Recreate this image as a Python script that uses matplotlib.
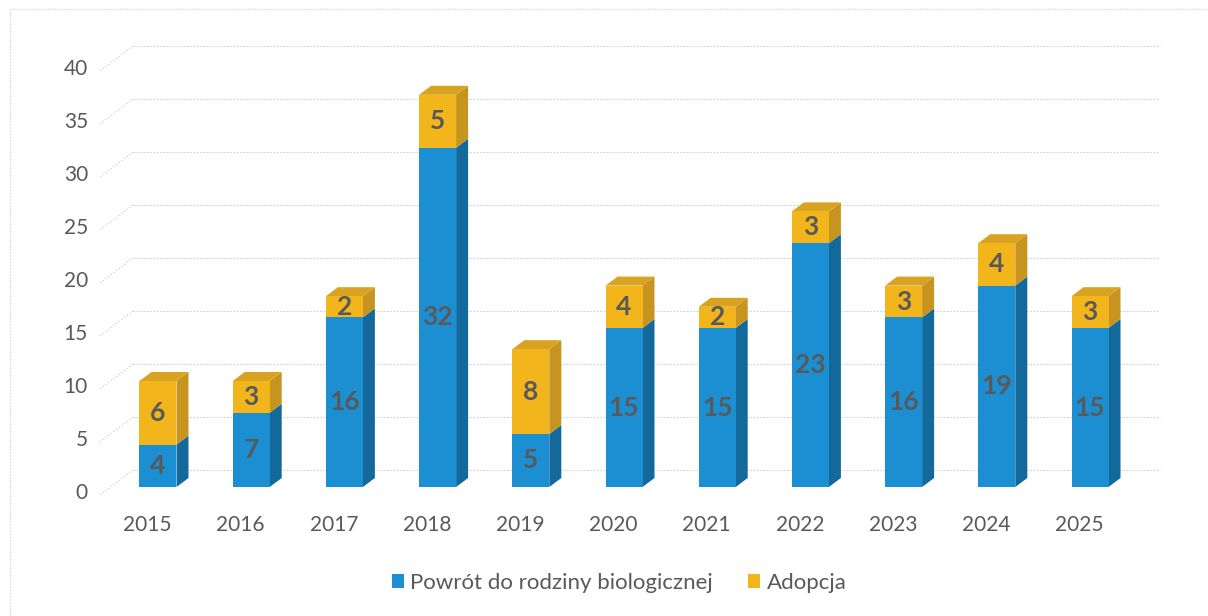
import matplotlib
matplotlib.use("Agg")
import matplotlib.pyplot as plt
from matplotlib.patches import Polygon, Rectangle

years = ["2015", "2016", "2017", "2018", "2019", "2020", "2021", "2022", "2023", "2024", "2025"]
powrot = [4, 7, 16, 32, 5, 15, 15, 23, 16, 19, 15]
adopcja = [6, 3, 2, 5, 8, 4, 2, 3, 3, 4, 3]
yticks = [0, 5, 10, 15, 20, 25, 30, 35, 40]
series_names = ["Powrót do rodziny biologicznej", "Adopcja"]

W, H = 1208, 616
PX_X = 93.2   # pixels per category
PX_Y = 10.6   # pixels per value unit
X0, Y0 = 158, 487  # pixel position of category 0 / value 0 (front of bars)

BLUE_F, BLUE_S, BLUE_T = "#1b8fd2", "#13699c", "#1677b0"
YEL_F, YEL_S, YEL_T = "#f2b51c", "#c6941f", "#d9a322"
TXT = "#595959"
FONT = "Lato"

fig = plt.figure(figsize=(W / 100, H / 100), dpi=100)
ax = fig.add_axes([0, 0, 1, 1])
ax.set_xlim(-X0 / PX_X, (W - X0) / PX_X)
ax.set_ylim((Y0 - H) / PX_Y, Y0 / PX_Y)
ax.axis("off")

def px(dx):
    return dx / PX_X

def py(dy):
    return dy / PX_Y

# faint scan frame (left and top edges only)
ax.plot([px(10 - X0), px(10 - X0)], [py(Y0 - H), py(Y0 - 9)], color="#dcdcdc", lw=0.9,
        ls=(0, (1.5, 1)), zorder=1)
ax.plot([px(10 - X0), px(W - X0)], [py(Y0 - 9), py(Y0 - 9)], color="#dcdcdc", lw=0.9,
        ls=(0, (1.5, 1)), zorder=1)

# gridlines (back wall) and floor diagonals
for v in yticks:
    yb = v + py(17)
    yf = v - py(8)
    ax.plot([px(133 - X0), px(1160 - X0)], [yb, yb], color="#cfcfcf", lw=0.8,
            ls=(0, (1.5, 1.5)), zorder=1)
    ax.plot([px(100 - X0), px(133 - X0)], [yf, yb], color="#d4d4d4", lw=0.8,
            ls=(0, (1.5, 1.5)), zorder=1)
    ax.text(px(88 - X0), v - py(6), str(v), ha="right", va="center",
            fontsize=15, color=TXT, family=FONT)

bw = px(37)
ddx, ddy = px(12), py(9)

def box(x, y0, y1, cs, ct, top=True):
    xl, xr = x - bw / 2, x + bw / 2
    ax.add_patch(Polygon([(xr, y0), (xr + ddx, y0 + ddy), (xr + ddx, y1 + ddy), (xr, y1)],
                         closed=True, fc=cs, ec="none", zorder=3))
    if top:
        ax.add_patch(Polygon([(xl, y1), (xr, y1), (xr + ddx, y1 + ddy), (xl + ddx, y1 + ddy)],
                             closed=True, fc=ct, ec="none", zorder=3))

xs = list(range(len(years)))
ax.bar(xs, powrot, width=bw, color=BLUE_F, zorder=4, label=series_names[0])
ax.bar(xs, adopcja, bottom=powrot, width=bw, color=YEL_F, zorder=4, label=series_names[1])
for i in xs:
    p, a = powrot[i], adopcja[i]
    box(i, 0, p, BLUE_S, BLUE_T, top=False)
    box(i, p, p + a, YEL_S, YEL_T, top=True)
    ax.text(i, p / 2, str(p), ha="center", va="center", fontsize=19,
            fontweight="bold", color=TXT, family=FONT, zorder=6)
    ax.text(i, p + a / 2, str(a), ha="center", va="center", fontsize=19,
            fontweight="bold", color=TXT, family=FONT, zorder=6)
    ax.text(i - px(10.5), py(487 - 525), years[i], ha="center", va="center",
            fontsize=15, color=TXT, family=FONT)

handles = [Rectangle((0, 0), 1, 1, fc=BLUE_F), Rectangle((0, 0), 1, 1, fc=YEL_F)]
leg = fig.legend(handles, series_names, loc="center", bbox_to_anchor=(619 / W, 1 - 583 / H),
                 ncol=2, frameon=False, handlelength=0.55, handleheight=0.55,
                 handletextpad=0.3, columnspacing=1.55,
                 prop={"family": FONT, "size": 16})
for t in leg.get_texts():
    t.set_color(TXT)

fig.savefig("out.png", dpi=100)
